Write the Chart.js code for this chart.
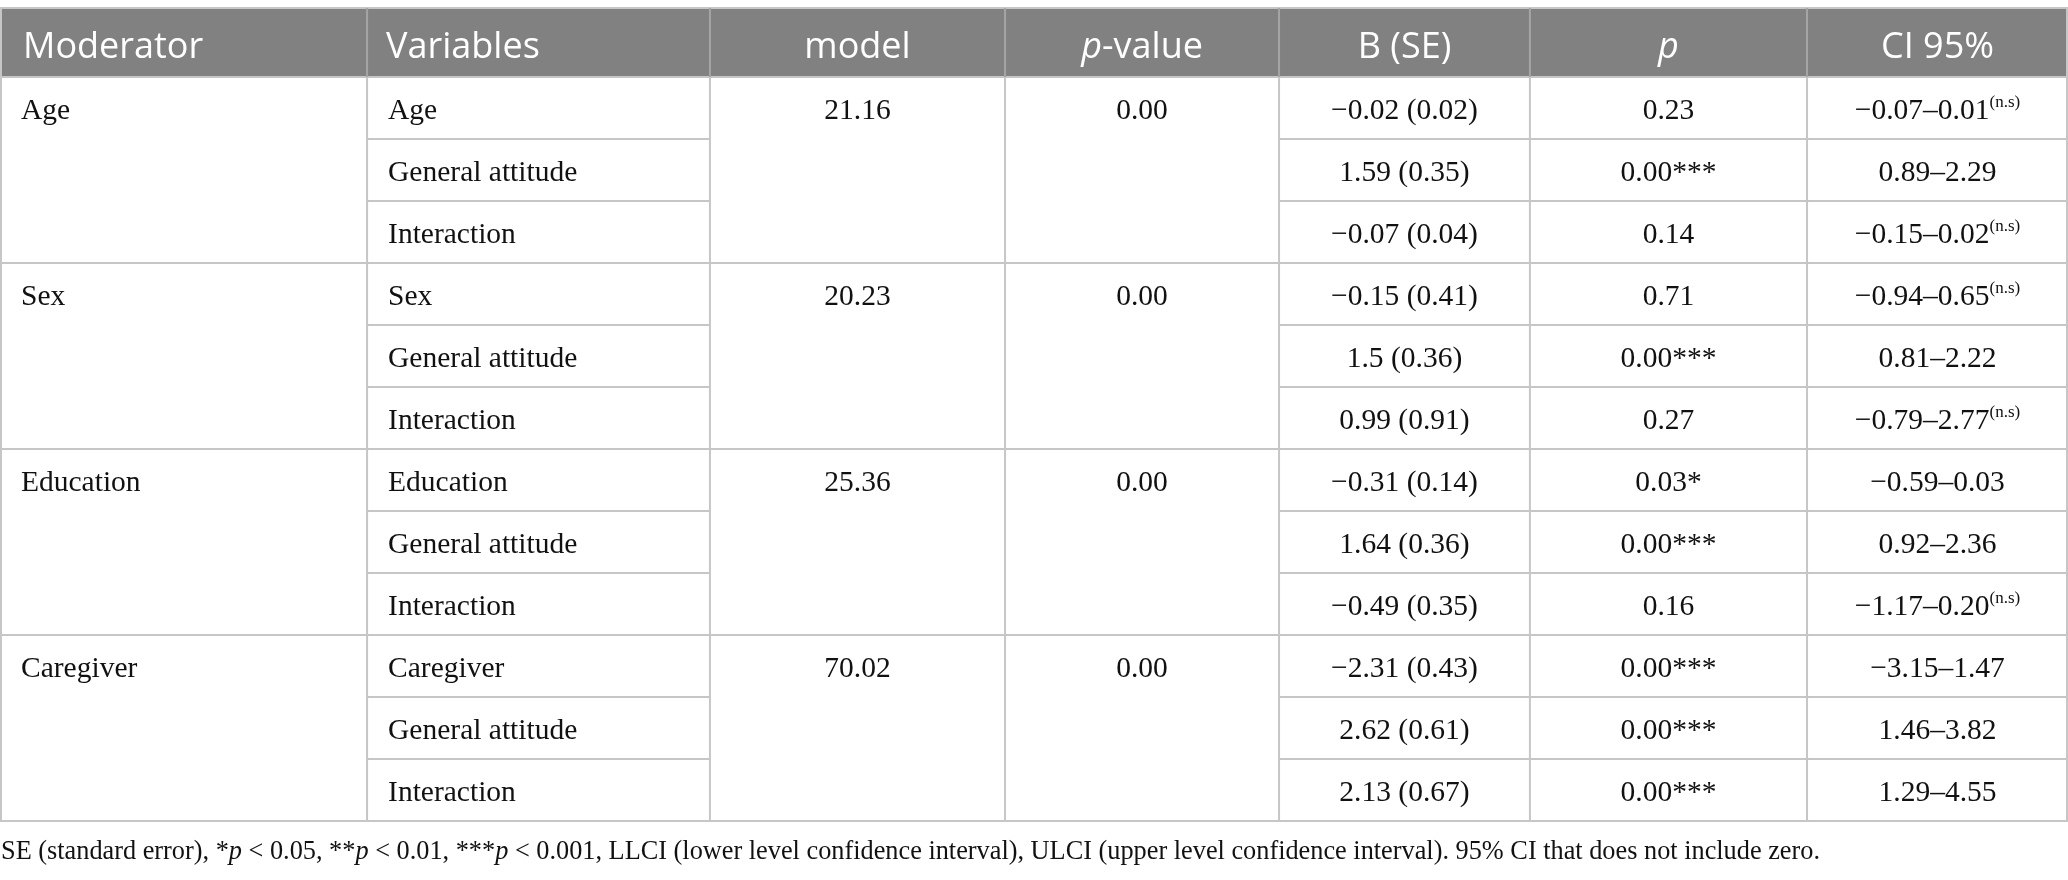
<!DOCTYPE html>
<html>
<head>
<meta charset="utf-8">
<script src="https://cdn.jsdelivr.net/npm/chart.js@4"></script>
<style>
  html, body { margin: 0; padding: 0; background: #fff; }
  canvas { display: block; }
</style>
</head>
<body>
<canvas id="tbl" width="2068" height="880"></canvas>
<script>
/* ── DATA ── */
const headers    = ['Moderator', 'Variables', 'model', 'p-value', 'B (SE)', 'p', 'CI 95%'];
const moderators = ['Age', 'Sex', 'Education', 'Caregiver'];
const modelFit   = ['21.16', '20.23', '25.36', '70.02'];
const modelP     = ['0.00', '0.00', '0.00', '0.00'];
const variables  = ['Age', 'General attitude', 'Interaction',
                    'Sex', 'General attitude', 'Interaction',
                    'Education', 'General attitude', 'Interaction',
                    'Caregiver', 'General attitude', 'Interaction'];
const bSE        = ['−0.02 (0.02)', '1.59 (0.35)', '−0.07 (0.04)',
                    '−0.15 (0.41)', '1.5 (0.36)', '0.99 (0.91)',
                    '−0.31 (0.14)', '1.64 (0.36)', '−0.49 (0.35)',
                    '−2.31 (0.43)', '2.62 (0.61)', '2.13 (0.67)'];
const pValues    = ['0.23', '0.00***', '0.14',
                    '0.71', '0.00***', '0.27',
                    '0.03*', '0.00***', '0.16',
                    '0.00***', '0.00***', '0.00***'];
const ci95       = ['−0.07–0.01', '0.89–2.29', '−0.15–0.02',
                    '−0.94–0.65', '0.81–2.22', '−0.79–2.77',
                    '−0.59–0.03', '0.92–2.36', '−1.17–0.20',
                    '−3.15–1.47', '1.46–3.82', '1.29–4.55'];
const ciNote     = ['(n.s)', '', '(n.s)',
                    '(n.s)', '', '(n.s)',
                    '', '', '(n.s)',
                    '', '', ''];
const footnote   = [['SE (standard error), *', 0], ['p', 1], [' < 0.05, **', 0], ['p', 1], [' < 0.01, ***', 0], ['p', 1],
                    [' < 0.001, LLCI (lower level confidence interval), ULCI (upper level confidence interval). 95% CI that does not include zero.', 0]];

/* ── LAYOUT ── */
const colEdges = [0, 17.75, 34.33, 48.6, 61.85, 73.98, 87.38, 100];  // percent of width
const HEAD = 69 / 62;        // header height in row units
const PER_GROUP = 3;
const SERIF = '"Liberation Serif", "Times New Roman", serif';
const SANS  = '"Open Sans", "Noto Sans", sans-serif';
const HEAD_BG = '#808180';
const LINE = '#c6c6c6';
const INK = '#111111';

function drawParts(ctx, parts, x, y, align) {
  // parts: [text, font, dy]
  let w = 0;
  parts.forEach(p => { ctx.font = p[1]; w += ctx.measureText(p[0]).width; });
  let cx = align === 'center' ? x - w / 2 : x;
  parts.forEach(p => {
    ctx.font = p[1];
    ctx.fillText(p[0], cx, y + (p[2] || 0));
    cx += ctx.measureText(p[0]).width;
  });
}

const tablePlugin = {
  id: 'table',
  afterDraw(chart) {
    const { ctx, scales: { x, y } } = chart;
    const X = v => x.getPixelForValue(v);
    const Y = v => y.getPixelForValue(v);
    const col = i => X(colEdges[i]);
    const mid = i => (col(i) + col(i + 1)) / 2;
    const nRows = variables.length;
    const top = Y(0), headBot = Y(HEAD), bot = Y(HEAD + nRows);
    const left = col(0), right = col(7);

    ctx.save();
    ctx.textBaseline = 'alphabetic';

    // header band
    ctx.fillStyle = HEAD_BG;
    ctx.fillRect(left, top, right - left, headBot - top);

    // lines
    ctx.lineWidth = 2;
    ctx.strokeStyle = LINE;
    const hline = (x0, x1, yy) => { ctx.beginPath(); ctx.moveTo(x0, yy); ctx.lineTo(x1, yy); ctx.stroke(); };
    const vline = (xx, y0, y1) => { ctx.beginPath(); ctx.moveTo(xx, y0); ctx.lineTo(xx, y1); ctx.stroke(); };

    hline(left, right, top);
    for (let r = 0; r <= nRows; r++) {
      const yy = Y(HEAD + r);
      if (r % PER_GROUP === 0) hline(left, right, yy);
      else { hline(col(1), col(2), yy); hline(col(4), right, yy); }
    }
    vline(left + 1, top, bot);
    vline(right - 1, top, bot);
    for (let i = 1; i < 7; i++) vline(col(i), headBot, bot);
    ctx.strokeStyle = '#a4a5a4';
    for (let i = 1; i < 7; i++) vline(col(i), top, headBot);

    // header text
    const hf = '36px ' + SANS, hfi = 'italic 36px ' + SANS;
    const hy = top + 50;
    ctx.fillStyle = '#ffffff';
    drawParts(ctx, [[headers[0], hf]], col(0) + 23, hy, 'left');
    drawParts(ctx, [[headers[1], hf]], col(1) + 19, hy, 'left');
    drawParts(ctx, [[headers[2], hf]], mid(2), hy, 'center');
    drawParts(ctx, [['p', hfi], ['-value', hf]], mid(3), hy, 'center');
    drawParts(ctx, [[headers[4], hf]], mid(4), hy, 'center');
    drawParts(ctx, [[headers[5], hfi]], mid(5), hy, 'center');
    drawParts(ctx, [[headers[6], hf]], mid(6), hy, 'center');

    // body
    const bf = '29.5px ' + SERIF, sf = '17px ' + SERIF;
    ctx.fillStyle = INK;
    for (let r = 0; r < nRows; r++) {
      const by = Y(HEAD + r) + 42;
      if (r % PER_GROUP === 0) {
        const g = r / PER_GROUP;
        drawParts(ctx, [[moderators[g], bf]], col(0) + 21, by, 'left');
        drawParts(ctx, [[modelFit[g], bf]], mid(2), by, 'center');
        drawParts(ctx, [[modelP[g], bf]], mid(3), by, 'center');
      }
      drawParts(ctx, [[variables[r], bf]], col(1) + 21, by, 'left');
      drawParts(ctx, [[bSE[r], bf]], mid(4), by, 'center');
      drawParts(ctx, [[pValues[r], bf]], mid(5), by, 'center');
      const ciParts = [[ci95[r], bf]];
      if (ciNote[r]) ciParts.push([ciNote[r], sf, -12]);
      drawParts(ctx, ciParts, mid(6), by, 'center');
    }

    // footnote
    const ff = '26.3px ' + SERIF, ffi = 'italic 26.3px ' + SERIF;
    drawParts(ctx, footnote.map(p => [p[0], p[1] ? ffi : ff]), left + 1, bot + 38, 'left');

    ctx.restore();
  }
};

new Chart(document.getElementById('tbl'), {
  type: 'scatter',
  data: { datasets: [{ data: [], pointRadius: 0 }] },
  options: {
    responsive: false,
    animation: false,
    devicePixelRatio: 1,
    layout: { padding: { top: 8, bottom: 59, left: 0, right: 0 } },
    plugins: { legend: { display: false }, tooltip: { enabled: false } },
    scales: {
      x: { type: 'linear', min: 0, max: 100, display: false },
      y: { type: 'linear', min: 0, max: HEAD + variables.length, reverse: true, display: false }
    }
  },
  plugins: [tablePlugin]
});
</script>
</body>
</html>
